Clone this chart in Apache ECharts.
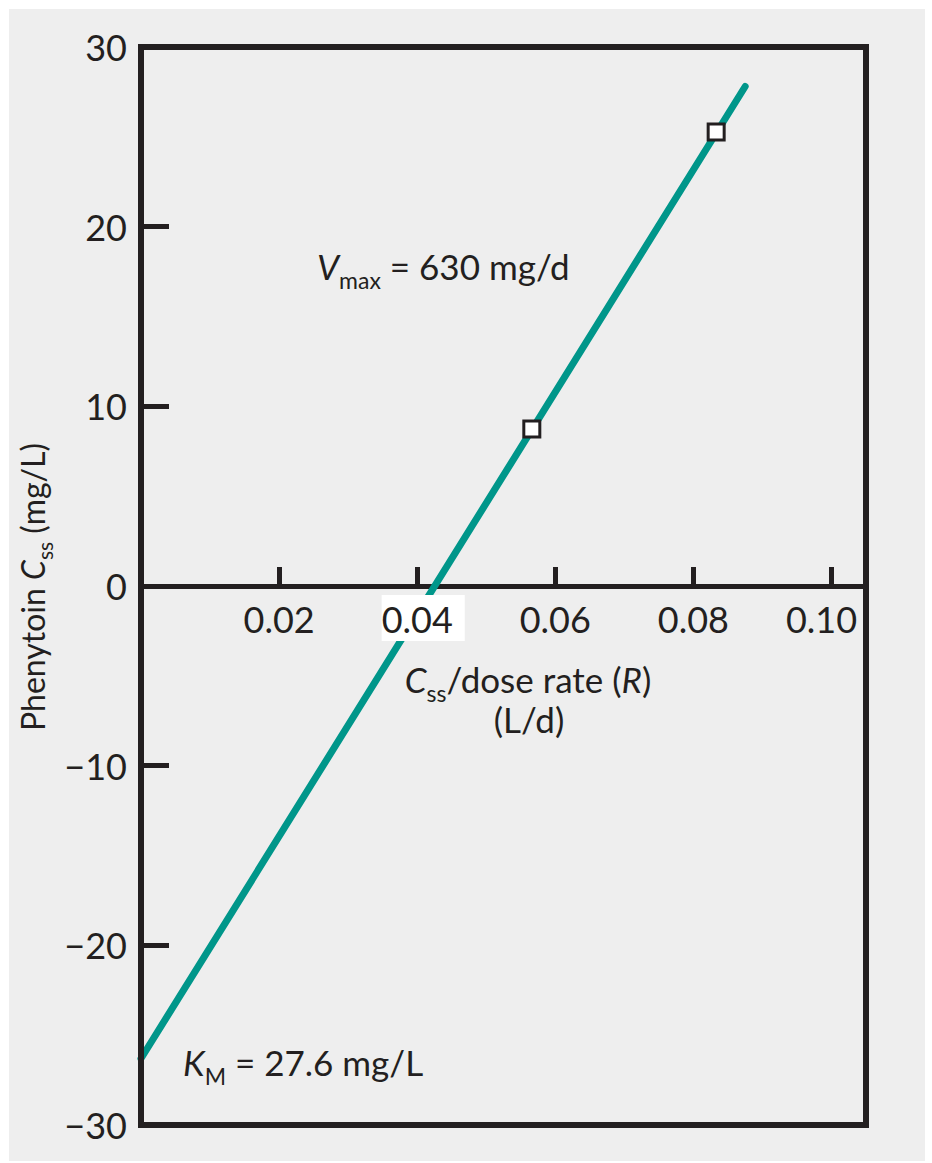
<!DOCTYPE html>
<html>
<head>
<meta charset="utf-8">
<style>
  html, body { margin: 0; padding: 0; background: #ffffff; }
  #chart { position: absolute; left: 9px; top: 9px; width: 916px; height: 1152px; }
</style>
<script src="https://cdn.jsdelivr.net/npm/echarts@6/dist/echarts.min.js"></script>
</head>
<body>
<div id="chart"></div>
<script>
// ---- data ----
const fitLineX = [0, 0.0875];          // Css / dose rate (L/d)
const fitLineY = [-26.3, 27.8];         // Phenytoin Css (mg/L)
const measuredX = [0.0566, 0.0833];
const measuredY = [8.74, 25.27];
const xTickValues = [0.02, 0.04, 0.06, 0.08, 0.10];
const yTickValues = [-20, -10, 10, 20];
const highlightedXLabel = 0.04;
const lastXLabel = 0.10;

const FONT = 'Lato';
const INK = '#231f20';
const TEAL = '#00968a';
const X_MIN = 0, X_MAX = 0.105, Y_MIN = -30, Y_MAX = 30;

function pairs(xs, ys) { return xs.map((x, i) => [x, ys[i]]); }
function near(a, b) { return Math.abs(a - b) < 1e-9; }

const chart = echarts.init(document.getElementById('chart'), null, { renderer: 'svg' });

const tokBase = { fontSize: 36, fontFamily: FONT, color: INK, padding: [6, 0, 4, 0] };

function annot(x, y, text, size, subSize, subPad, extra) {
  return Object.assign({
    type: 'text', x: x, y: y, z: 10,
    style: {
      text: text, fill: INK, fontSize: size, fontFamily: FONT,
      align: 'left', verticalAlign: 'middle',
      rich: {
        i: { fontSize: size, fontFamily: FONT, fontStyle: 'italic', fill: INK },
        s: { fontSize: subSize, fontFamily: FONT, fill: INK, padding: [subPad, 0, 0, 0] },
        n: { fontSize: size, fontFamily: FONT, fill: INK }
      }
    }
  }, extra || {});
}

const option = {
  backgroundColor: '#eeeeee',
  animation: false,
  grid: {
    left: 132, top: 38, right: 59, bottom: 36,
    outerBoundsMode: 'none', containLabel: false,
    show: true, borderColor: INK, borderWidth: 6, backgroundColor: 'transparent', z: 3
  },
  xAxis: [
    { // axis line + ticks (below the fitted line)
      type: 'value', min: X_MIN, max: X_MAX, interval: 0.02, position: 'bottom', offset: 0, z: 0,
      axisLine: { show: true, onZero: false, lineStyle: { color: INK, width: 5 } },
      axisTick: { show: true, inside: true, length: 19, lineStyle: { color: INK, width: 5 }, customValues: xTickValues },
      axisLabel: { show: false },
      splitLine: { show: false }
    },
    { // tick labels only (above the fitted line)
      type: 'value', min: X_MIN, max: X_MAX, interval: 0.02, position: 'top', offset: 0, z: 6,
      axisLine: { show: false, onZero: false },
      axisTick: { show: false },
      axisLabel: {
        show: true, inside: true, margin: 9, customValues: xTickValues,
        formatter: function (v) {
          if (near(v, highlightedXLabel)) return '{s| }{w|' + v.toFixed(2) + '}';
          if (near(v, lastXLabel)) return '{e|' + v.toFixed(2) + '}';
          return '{n|' + v.toFixed(2) + '}';
        },
        rich: {
          n: tokBase,
          e: Object.assign({}, tokBase, { padding: [6, 20, 4, 0] }),
          s: Object.assign({}, tokBase, { width: 12 }),
          w: Object.assign({}, tokBase, { backgroundColor: '#ffffff', padding: [6, 12, 4, 0] })
        }
      },
      splitLine: { show: false }
    }
  ],
  yAxis: {
    type: 'value', min: Y_MIN, max: Y_MAX, interval: 10,
    axisLine: { show: false },
    axisTick: { show: true, inside: true, length: 28, lineStyle: { color: INK, width: 5 }, customValues: yTickValues },
    axisLabel: {
      show: true, margin: 14, fontSize: 36, fontFamily: FONT, color: INK,
      formatter: function (v) { return v < 0 ? '\u2212' + Math.abs(v) : String(v); }
    },
    splitLine: { show: false }
  },
  series: [
    {
      type: 'line', xAxisIndex: 0, data: pairs(fitLineX, fitLineY), symbol: 'none', z: 2,
      lineStyle: { color: TEAL, width: 7, cap: 'round' }, clip: true
    },
    {
      type: 'scatter', xAxisIndex: 0, data: pairs(measuredX, measuredY), symbol: 'rect', symbolSize: 16, z: 4,
      itemStyle: { color: '#ffffff', borderColor: INK, borderWidth: 3, opacity: 1 }
    }
  ],
  graphic: [
    annot(308, 257, '{i|V}{s|max}{n| = 630 mg/d}', 35, 23, 27),
    annot(174, 1053, '{i|K}{s|M}{n| = 27.6 mg/L}', 35, 23, 27),
    (function () {
      const g = annot(519, 670, '{i|C}{s|ss}{n|/dose rate (}{i|R}{n|)}', 35, 23, 27);
      g.style.align = 'center';
      return g;
    })(),
    {
      type: 'text', x: 520, y: 710, z: 10,
      style: { text: '(L/d)', fill: INK, fontSize: 35, fontFamily: FONT, align: 'center', verticalAlign: 'middle' }
    },
    (function () {
      const g = annot(23, 578, '{n|Phenytoin }{i|C}{s|ss}{n| (mg/L)}', 32, 21, 25, { rotation: Math.PI / 2 });
      g.style.align = 'center';
      return g;
    })()
  ]
};

chart.setOption(option);

// Move both x axes onto y = 0 using the library's own y scale.
const yZeroPx = chart.convertToPixel({ yAxisIndex: 0 }, 0);
const yMinPx = chart.convertToPixel({ yAxisIndex: 0 }, Y_MIN);
const yMaxPx = chart.convertToPixel({ yAxisIndex: 0 }, Y_MAX);
chart.setOption({ xAxis: [{ offset: -(yMinPx - yZeroPx) }, { offset: -(yZeroPx - yMaxPx) }] });
</script>
</body>
</html>
